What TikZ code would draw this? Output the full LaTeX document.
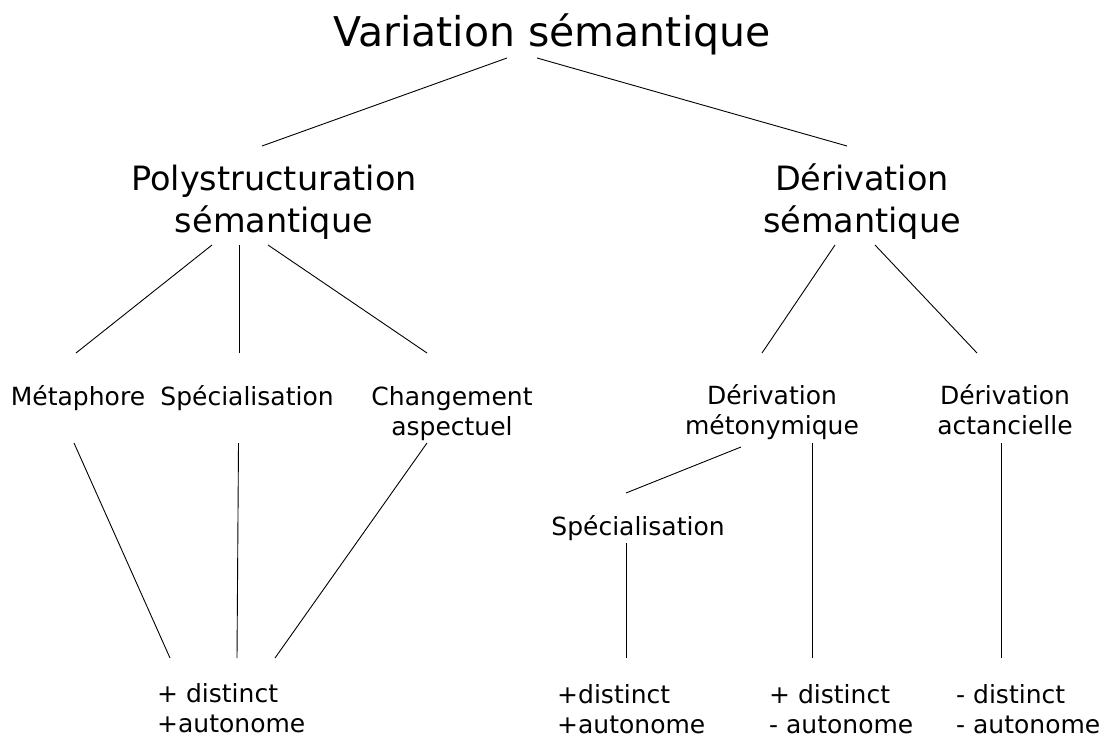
\documentclass[tikz,border=0pt]{standalone}
\usepackage{fontspec}
\setmainfont{DejaVu Sans}
\begin{document}
\begin{tikzpicture}[x=1pt,y=-1pt,
  lbl/.style={inner sep=0pt, anchor=base, align=center},
  big/.style={lbl, font=\fontsize{41}{48}\selectfont},
  mid/.style={lbl, font=\fontsize{33.5}{42}\selectfont},
  small/.style={lbl, font=\fontsize{25}{30}\selectfont},
  leaf/.style={inner sep=0pt, anchor=base west, align=left, font=\fontsize{25}{30}\selectfont},
  edge/.style={line width=0.9pt, black}]
\useasboundingbox (0,0) rectangle (1110,738);
% nodes (base anchor = baseline of last line)
\node[big] (root) at (552,47) {Variation sémantique};
\node[mid] (poly) at (274,232) {Polystructuration\\sémantique};
\node[mid] (deriv) at (862,232) {Dérivation\\sémantique};
\node[small] (meta) at (78,405) {Métaphore};
\node[small] (spec) at (247,405) {Spécialisation};
\node[small] (chg) at (452,435) {Changement\\aspectuel};
\node[small] (met) at (772,434) {Dérivation\\métonymique};
\node[small] (act) at (1005,434) {Dérivation\\actancielle};
\node[small] (spec2) at (638,535) {Spécialisation};
\node[leaf] (l1) at (157,732) {+ distinct\\+autonome};
\node[leaf] (l2) at (557,733) {+distinct\\+autonome};
\node[leaf] (l3) at (769,733) {+ distinct\\- autonome};
\node[leaf] (l4) at (956,733) {- distinct\\- autonome};
% connector end points
\coordinate (root-a) at (507,58);   \coordinate (poly-t) at (262,146);
\coordinate (root-b) at (537,58);   \coordinate (deriv-t) at (847,146);
\coordinate (poly-a) at (212,245);  \coordinate (meta-t) at (76,353);
\coordinate (poly-b) at (239,245);  \coordinate (spec-t) at (239,353);
\coordinate (poly-c) at (268,245);  \coordinate (chg-t) at (427,353);
\coordinate (deriv-a) at (835,245); \coordinate (met-t) at (762,353);
\coordinate (deriv-b) at (875,245); \coordinate (act-t) at (977,353);
\coordinate (meta-b) at (74,443);   \coordinate (l1-a) at (170,658);
\coordinate (spec-b) at (238.5,443);\coordinate (l1-b) at (237,658);
\coordinate (chg-b) at (427,443);   \coordinate (l1-c) at (275,658);
\coordinate (met-a) at (741,447);   \coordinate (spec2-t) at (626,493);
\coordinate (met-b) at (812,443);   \coordinate (l3-t) at (812,658);
\coordinate (spec2-b) at (626,543); \coordinate (l2-t) at (626,658);
\coordinate (act-b) at (1001,443);  \coordinate (l4-t) at (1001,658);
% connectors
\draw[edge] (root-a) -- (poly-t);
\draw[edge] (root-b) -- (deriv-t);
\draw[edge] (poly-a) -- (meta-t);
\draw[edge] (poly-b) -- (spec-t);
\draw[edge] (poly-c) -- (chg-t);
\draw[edge] (deriv-a) -- (met-t);
\draw[edge] (deriv-b) -- (act-t);
\draw[edge] (meta-b) -- (l1-a);
\draw[edge] (spec-b) -- (l1-b);
\draw[edge] (chg-b) -- (l1-c);
\draw[edge] (met-a) -- (spec2-t);
\draw[edge] (met-b) -- (l3-t);
\draw[edge] (spec2-b) -- (l2-t);
\draw[edge] (act-b) -- (l4-t);
\end{tikzpicture}
\end{document}
